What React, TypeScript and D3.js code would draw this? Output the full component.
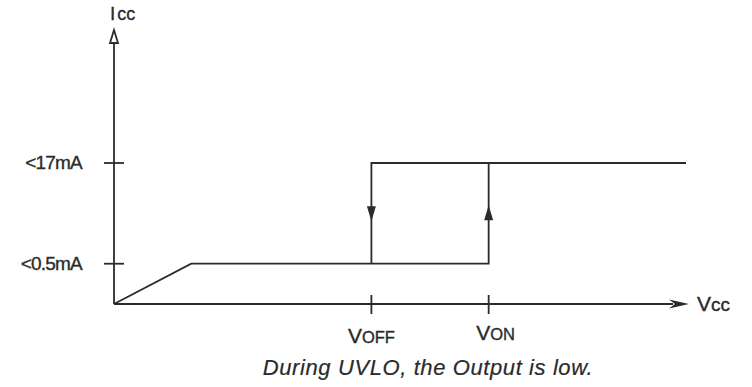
import React from "react";
import * as d3 from "d3";

// Icc level ticks (arbitrary units, not to scale)
const iccLevels = [1, 3.5];
const iccLabels = ["<0.5mA", "<17mA"];

// Vcc thresholds
const vccTicks = [4.5, 6.55];
const vccTickMain = ["V", "V"];
const vccTickSub = ["OFF", "ON"];

// rising path: startup ramp, low current, jump at VON, high current
const riseVcc = [0, 1.35, 6.55, 6.55, 10];
const riseIcc = [0, 1, 1, 3.5, 3.5];
// falling path: high current back to VOFF, then drop
const fallVcc = [10, 4.5, 4.5];
const fallIcc = [3.5, 3.5, 1];

const caption = "During UVLO, the Output is low.";

const INK = "#2b2b2b";
const FONT = "'Liberation Sans', Arial, sans-serif";

const App = () => {
  const width = 752;
  const height = 387;

  const x = d3.scaleLinear().domain([0, 10]).range([114, 686]);
  const y = d3.scaleLinear().domain([0, 3.5]).range([304, 163]);

  const line = d3
    .line<number>()
    .x((d, i) => x(riseVcc[i]))
    .y((d, i) => y(riseIcc[i]));

  const fallLine = d3
    .line<number>()
    .x((d, i) => x(fallVcc[i]))
    .y((d, i) => y(fallIcc[i]));

  const x0 = x(0);
  const y0 = y(0);
  const yTop = 30; // arrow tip of Icc axis
  const xEnd = 689; // arrow tip of Vcc axis

  // mid arrows on the vertical edges
  const midY = (y(1) + y(3.5)) / 2;
  const downX = x(fallVcc[1]);
  const upX = x(riseVcc[2]);

  return (
    <svg width={width} height={height} style={{ position: "absolute", left: 0, top: 0, background: "#fff" }}>
      <g fill="none" stroke={INK} strokeWidth={1.8}>
        {/* axes */}
        <line x1={x0} y1={y0} x2={x0} y2={yTop + 12} />
        <line x1={x0} y1={y0} x2={xEnd - 16} y2={y0} />
        {/* ticks */}
        {iccLevels.map((v, i) => (
          <line key={`yt-${i}`} x1={x0 - 10} x2={x0 + 10} y1={y(v)} y2={y(v)} />
        ))}
        {vccTicks.map((v, i) => (
          <line key={`xt-${i}`} x1={x(v)} x2={x(v)} y1={y0 - 9} y2={y0 + 10} />
        ))}
        {/* curve */}
        <path d={line(riseVcc) || ""} />
        <path d={fallLine(fallVcc) || ""} />
      </g>

      {/* Icc axis arrowhead (open) */}
      <path
        d={`M${x0},${yTop} L${x0 - 4},${yTop + 13} L${x0 + 4},${yTop + 13} Z`}
        fill="#fff"
        stroke={INK}
        strokeWidth={1.8}
      />
      {/* Vcc axis arrowhead (filled) */}
      <path d={`M${xEnd},${y0} L${xEnd - 20},${y0 - 4.5} L${xEnd - 14},${y0} L${xEnd - 20},${y0 + 4.5} Z`} fill={INK} />

      {/* direction arrows */}
      <path d={`M${downX - 4.5},${midY - 7} L${downX + 4.5},${midY - 7} L${downX},${midY + 8} Z`} fill={INK} />
      <path d={`M${upX - 4.5},${midY + 7} L${upX + 4.5},${midY + 7} L${upX},${midY - 8} Z`} fill={INK} />

      <g fontFamily={FONT} fill={INK} stroke={INK} strokeWidth={0.35}>
        {/* axis titles */}
        <text x={x0 - 4} y={20} fontSize={19}>
          <tspan>I</tspan>
          <tspan fontSize={18} dx={2}>cc</tspan>
        </text>
        <text x={xEnd + 8} y={y0 + 7} fontSize={21}>
          <tspan>V</tspan>
          <tspan fontSize={19}>cc</tspan>
        </text>

        {/* Icc tick labels */}
        {iccLevels.map((v, i) => (
          <text key={`yl-${i}`} x={82} y={y(v) + 6} fontSize={19} textAnchor="end" letterSpacing={-0.8}>
            {iccLabels[i]}
          </text>
        ))}

        {/* Vcc tick labels */}
        {vccTicks.map((v, i) => (
          <text
            key={`xl-${i}`}
            x={x(v) + (i === 1 ? 7 : 0)}
            y={i === 1 ? 340 : 343}
            fontSize={21}
            textAnchor="middle"
          >
            <tspan>{vccTickMain[i]}</tspan>
            <tspan fontSize={16.5}>{vccTickSub[i]}</tspan>
          </text>
        ))}

        {/* caption */}
        <text x={428} y={375} fontSize={22} fontStyle="italic" textAnchor="middle" letterSpacing={0.6} strokeWidth={0.2}>
          {caption}
        </text>
      </g>
    </svg>
  );
};

export default App;
